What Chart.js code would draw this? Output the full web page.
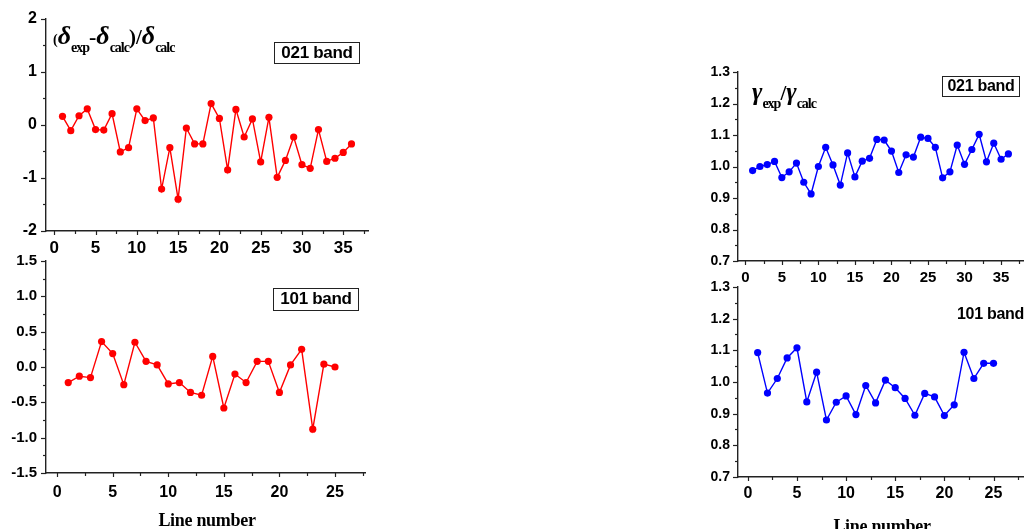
<!DOCTYPE html>
<html>
<head>
<meta charset="utf-8">
<script src="https://cdn.jsdelivr.net/npm/chart.js@4.4.1/dist/chart.umd.min.js"></script>
<style>
  html, body { margin:0; padding:0; background:#fff; }
  #wrap { position:relative; width:1027px; height:529px; overflow:hidden; background:#fff; }
  canvas { position:absolute; }
  .lbl { position:absolute; white-space:nowrap; color:#000; }
  .box { position:absolute; box-sizing:border-box; border:1.5px solid #222; font:bold 17px "Liberation Sans", Arial, sans-serif; text-align:center; color:#000; letter-spacing:-0.3px; }
  .ttl { position:absolute; white-space:nowrap; font-family:"Liberation Serif", "Times New Roman", serif; font-weight:bold; color:#000; }
  .ttl .g { font-style:italic; font-size:26px; }
  .ttl .s { font-size:14px; letter-spacing:-1px; position:relative; top:8px; }
  .ttl .p { font-size:14px; }
  .xt { position:absolute; font:bold 18px "Liberation Serif", "Times New Roman", serif; letter-spacing:-0.3px; transform:translateX(-50%); white-space:nowrap; }
</style>
</head>
<body>
<div id="wrap">
  <canvas id="c1" width="380" height="262" style="left:0;top:0;width:380px;height:262px"></canvas>
  <canvas id="c2" width="380" height="289" style="left:0;top:240px;width:380px;height:289px"></canvas>
  <canvas id="c3" width="337" height="240" style="left:690px;top:50px;width:337px;height:240px"></canvas>
  <canvas id="c4" width="337" height="259" style="left:690px;top:270px;width:337px;height:259px"></canvas>

  <div class="ttl" style="left:53px;top:21px;line-height:30px"><span class="p">(</span><span class="g">δ</span><span class="s">exp</span><span style="font-size:22px">-</span><span class="g">δ</span><span class="s">calc</span><span style="font-size:21px">)/</span><span class="g">δ</span><span class="s">calc</span></div>
  <div class="ttl" style="left:752px;top:77px;line-height:30px"><span class="g" style="font-size:25px">γ</span><span class="s">exp</span><span style="font-size:21px">/</span><span class="g" style="font-size:25px">γ</span><span class="s">calc</span></div>

  <div class="box" style="left:274px;top:42px;width:86px;height:22px;line-height:19px">021 band</div>
  <div class="box" style="left:273px;top:288px;width:86px;height:23px;line-height:20px">101 band</div>
  <div class="box" style="left:942px;top:76px;width:78px;height:21px;line-height:18px;font-size:16px">021 band</div>
  <div class="lbl" style="left:957px;top:305px;font:bold 16px 'Liberation Sans', Arial, sans-serif;letter-spacing:-0.3px">101 band</div>

  <div class="xt" style="left:207px;top:510px">Line number</div>
  <div class="xt" style="left:882px;top:516px">Line number</div>
</div>
<script>
// ---- data ----
const lineNumbers021 = [1,2,3,4,5,6,7,8,9,10,11,12,13,14,15,16,17,18,19,20,21,22,23,24,25,26,27,28,29,30,31,32,33,34,35,36];
const lineNumbers101 = [1,2,3,4,5,6,7,8,9,10,11,12,13,14,15,16,17,18,19,20,21,22,23,24,25];

const delta021 = [0.16,-0.11,0.17,0.30,-0.09,-0.10,0.21,-0.51,-0.43,0.30,0.08,0.13,-1.21,-0.43,-1.40,-0.06,-0.36,-0.36,0.40,0.12,-0.85,0.29,-0.23,0.11,-0.70,0.14,-0.99,-0.67,-0.23,-0.75,-0.82,-0.09,-0.69,-0.63,-0.52,-0.36];
const delta101 = [-0.22,-0.13,-0.15,0.36,0.19,-0.25,0.35,0.08,0.03,-0.24,-0.22,-0.36,-0.40,0.15,-0.58,-0.10,-0.22,0.08,0.08,-0.36,0.03,0.25,-0.88,0.04,0.00];
const gamma021 = [0.987,1.000,1.006,1.016,0.965,0.983,1.011,0.950,0.913,1.000,1.061,1.005,0.941,1.043,0.967,1.017,1.026,1.086,1.084,1.049,0.981,1.037,1.030,1.093,1.089,1.061,0.964,0.983,1.068,1.007,1.054,1.102,1.015,1.074,1.023,1.040];
const gamma101 = [1.093,0.965,1.011,1.076,1.108,0.937,1.031,0.880,0.936,0.956,0.897,0.989,0.934,1.006,0.982,0.948,0.895,0.964,0.953,0.894,0.928,1.094,1.011,1.059,1.059];

const xTicks021 = [0,5,10,15,20,25,30,35];
const xTicks101 = [0,5,10,15,20,25];
const yTicksDelta021 = [-2,-1,0,1,2];
const yTicksDelta101 = [-1.5,-1.0,-0.5,0.0,0.5,1.0,1.5];
const yTicksGamma = [0.7,0.8,0.9,1.0,1.1,1.2,1.3];

// ---- tick mark plugin (major + minor, outward) ----
const tickMarks = {
  id: 'tickMarks',
  afterDraw(chart) {
    const ctx = chart.ctx, a = chart.chartArea;
    ctx.save();
    ctx.strokeStyle = '#222';
    ctx.lineWidth = 1.2;
    const doScale = (sc, horiz) => {
      const maj = sc.ticks.map(t => t.value);
      const step = maj[1] - maj[0];
      const all = [];
      maj.forEach(v => all.push([v, true]));
      for (let i = 0; i < maj.length; i++) {
        const m = maj[i] + step / 2;
        if (m <= sc.max + 1e-9) all.push([m, false]);
      }
      const first = maj[0] - step / 2;
      if (first >= sc.min - 1e-9) all.push([first, false]);
      all.forEach(([v, major]) => {
        const p = Math.round(sc.getPixelForValue(v)) + 0.5;
        ctx.beginPath();
        if (horiz) {
          ctx.moveTo(p, a.bottom);
          ctx.lineTo(p, a.bottom + (major ? 4 : 3));
        } else {
          ctx.moveTo(a.left, p);
          ctx.lineTo(a.left - (major ? 5 : 3), p);
        }
        ctx.stroke();
      });
    };
    doScale(chart.scales.x, true);
    doScale(chart.scales.y, false);
    ctx.restore();
  }
};

function makeChart(id, xs, ys, color, cfg) {
  const pts = xs.map((x, i) => ({ x: x, y: ys[i] }));
  return new Chart(document.getElementById(id), {
    type: 'line',
    data: { datasets: [{
      data: pts, borderColor: color, backgroundColor: color,
      pointBackgroundColor: color, pointBorderColor: color,
      borderWidth: 1.4, pointRadius: 3.6, pointBorderWidth: 0, tension: 0
    }]},
    plugins: [tickMarks],
    options: {
      responsive: false, animation: false,
      events: [],
      layout: { padding: cfg.padding },
      plugins: { legend: { display: false }, tooltip: { enabled: false } },
      scales: {
        x: {
          type: 'linear', min: cfg.xmin, max: cfg.xmax,
          afterBuildTicks: s => { s.ticks = cfg.xTicks.map(v => ({ value: v })); },
          afterFit: s => { s.height = cfg.xh; },
          grid: { display: true, drawOnChartArea: false, drawTicks: false },
          border: { display: true, color: '#222', width: 1.4 },
          ticks: { color: '#000', padding: cfg.xpad, maxRotation: 0, autoSkip: false,
                   font: { family: 'Liberation Sans', weight: 'bold', size: cfg.xfs },
                   callback: v => String(v) }
        },
        y: {
          type: 'linear', min: cfg.ymin, max: cfg.ymax,
          afterBuildTicks: s => { s.ticks = cfg.yTicks.map(v => ({ value: v })); },
          afterFit: s => { s.width = cfg.yw; },
          grid: { display: true, drawOnChartArea: false, drawTicks: false },
          border: { display: true, color: '#222', width: 1.4 },
          ticks: { color: '#000', padding: cfg.ypad, autoSkip: false,
                   font: { family: 'Liberation Sans', weight: 'bold', size: cfg.yfs },
                   callback: v => cfg.yfmt(v) }
        }
      }
    }
  });
}

makeChart('c1', lineNumbers021, delta021, '#ff0000', {
  padding: { left: 0, top: 18, right: 12, bottom: 0 },
  xmin: -1, xmax: 38, ymin: -2, ymax: 2,
  xTicks: xTicks021, yTicks: yTicksDelta021,
  xh: 31, yw: 46, xpad: 7, ypad: 9, xfs: 17, yfs: 16,
  yfmt: v => String(v)
});
makeChart('c2', lineNumbers101, delta101, '#ff0000', {
  padding: { left: 0, top: 21, right: 15, bottom: 0 },
  xmin: -1, xmax: 27.7, ymin: -1.5, ymax: 1.5,
  xTicks: xTicks101, yTicks: yTicksDelta101,
  xh: 56, yw: 46, xpad: 10, ypad: 9, xfs: 16, yfs: 15,
  yfmt: v => v.toFixed(1)
});
makeChart('c3', lineNumbers021, gamma021, '#0000ff', {
  padding: { left: 0, top: 22, right: 2, bottom: 0 },
  xmin: -1, xmax: 38, ymin: 0.7, ymax: 1.3,
  xTicks: xTicks021, yTicks: yTicksGamma,
  xh: 29, yw: 48, xpad: 8, ypad: 8, xfs: 15, yfs: 14,
  yfmt: v => v.toFixed(1)
});
makeChart('c4', lineNumbers101, gamma101, '#0000ff', {
  padding: { left: 0, top: 17, right: 2, bottom: 0 },
  xmin: -1, xmax: 28, ymin: 0.7, ymax: 1.3,
  xTicks: xTicks101, yTicks: yTicksGamma,
  xh: 52, yw: 48, xpad: 7, ypad: 8, xfs: 16, yfs: 14,
  yfmt: v => v.toFixed(1)
});
</script>
</body>
</html>
